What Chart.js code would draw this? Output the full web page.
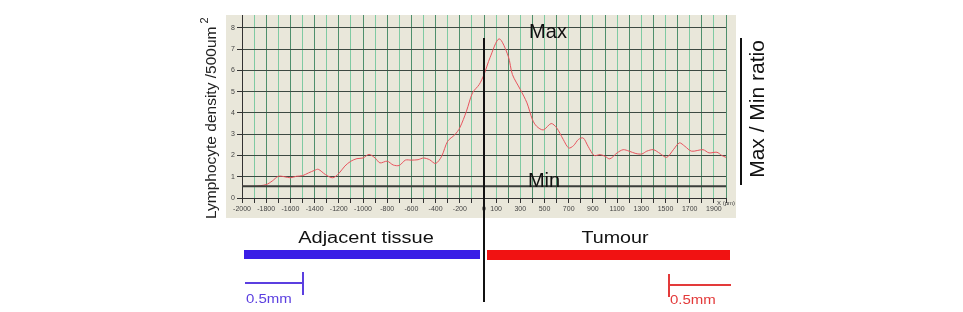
<!DOCTYPE html>
<html lang="en">
<head>
    <meta charset="UTF-8">
    <title>Lymphocyte density profile</title>
    <script src="https://cdn.jsdelivr.net/npm/chart.js"></script>
    <style>
        body { margin: 0; background: #ffffff; }
        #wrap { width: 963px; height: 312px; }
    </style>
</head>
<body>
    <div id="wrap"><canvas id="profile" width="963" height="312"></canvas></div>

    <script>
        // distance from the tumour margin (um) and lymphocyte density
        const distance = [-2000, -1900, -1800, -1750, -1700, -1650, -1600, -1550, -1500, -1450, -1400, -1370,
            -1310, -1250, -1200, -1150, -1100, -1050, -1000, -950, -900, -860, -800, -750, -700, -650,
            -600, -545, -500, -450, -400, -350, -300, -240, -200, -145, -95, -40, 0, 50, 125, 200, 235,
            300, 355, 400, 435, 490, 555, 600, 655, 700, 740, 780, 820, 860, 910, 960, 1000, 1040, 1100,
            1150, 1200, 1255, 1305, 1345, 1400, 1455, 1510, 1565, 1615, 1660, 1715, 1810, 1860, 1925, 1965, 2000];
        const density = [0.55, 0.55, 0.63, 0.8, 1.02, 1.0, 0.95, 1.02, 1.05, 1.18, 1.3, 1.35,
            1.1, 0.95, 1.15, 1.5, 1.73, 1.85, 1.88, 2.05, 1.88, 1.65, 1.73, 1.55, 1.53, 1.78,
            1.78, 1.8, 1.88, 1.8, 1.62, 1.96, 2.67, 2.98, 3.3, 4.08, 4.94, 5.33, 5.8, 6.6, 7.48, 6.67, 5.8,
            5.1, 4.47, 3.69, 3.37, 3.2, 3.5, 3.3, 2.75, 2.35, 2.46, 2.75, 2.82, 2.43, 2.0, 2.04, 1.96, 1.84, 2.12,
            2.27, 2.2, 2.09, 2.07, 2.2, 2.27, 2.09, 1.91, 2.27, 2.59, 2.43, 2.2, 2.27, 2.12, 2.15, 2.0, 1.91];

        const minLevel = 0.55;       // the "Min" reference line
        const yTicks = [0, 1, 2, 3, 4, 5, 6, 7, 8];
        const yTitle = 'Lymphocyte density /500um';
        const sideTitle = 'Max / Min ratio';
        const regions = ['Adjacent tissue', 'Tumour'];
        const scaleLabel = '0.5mm';

        const points = distance.map((d, i) => ({ x: d, y: density[i] }));
        const FONT = '"Liberation Sans", Arial, sans-serif';

        // text stretched sideways like the source figure
        function wideText(ctx, str, x, y, size, sx, align) {
            ctx.save();
            ctx.translate(x, y);
            ctx.scale(sx, 1);
            ctx.font = size + 'px ' + FONT;
            ctx.textAlign = align || 'center';
            ctx.textBaseline = 'middle';
            ctx.fillText(str, 0, 0);
            ctx.restore();
        }

        // beige plot panel behind everything
        const panel = {
            id: 'panel',
            beforeDraw(chart) {
                const { ctx, chartArea: a } = chart;
                ctx.save();
                ctx.fillStyle = '#e9e7da';
                ctx.fillRect(a.left - 16, a.top, a.right - a.left + 26, a.bottom - a.top + 20);
                ctx.restore();
            }
        };

        // labels, reference lines and the tissue bars under the plot
        const extras = {
            id: 'extras',
            afterDraw(chart) {
                const { ctx, chartArea: a, scales: { x, y } } = chart;
                const x0 = x.getPixelForValue(0);
                ctx.save();

                // min line
                const ym = y.getPixelForValue(minLevel);
                ctx.strokeStyle = '#3a3d3a';
                ctx.lineWidth = 2;
                ctx.beginPath();
                ctx.moveTo(a.left, ym);
                ctx.lineTo(a.right, ym);
                ctx.stroke();

                // margin line
                ctx.strokeStyle = '#111';
                ctx.lineWidth = 2;
                ctx.beginPath();
                ctx.moveTo(x0, a.top + 23);
                ctx.lineTo(x0, 302);
                ctx.stroke();

                ctx.fillStyle = '#111';
                wideText(ctx, 'Max', x0 + 64, 32, 20, 1);
                wideText(ctx, 'Min', x0 + 60, 181, 20, 1);

                // y title with superscript
                ctx.save();
                ctx.translate(212, 219);
                ctx.rotate(-Math.PI / 2);
                ctx.textAlign = 'left';
                ctx.textBaseline = 'middle';
                ctx.font = '15.5px ' + FONT;
                ctx.fillStyle = '#222';
                ctx.fillText(yTitle, 0, 0);
                const w = ctx.measureText(yTitle).width;
                ctx.font = '11px ' + FONT;
                ctx.fillText('2', w + 3, -7);
                ctx.restore();

                // right ratio label
                ctx.strokeStyle = '#111';
                ctx.lineWidth = 2;
                ctx.beginPath();
                ctx.moveTo(741, 38);
                ctx.lineTo(741, 185);
                ctx.stroke();
                ctx.save();
                ctx.translate(758, 109);
                ctx.rotate(-Math.PI / 2);
                ctx.fillStyle = '#111';
                ctx.font = '21px ' + FONT;
                ctx.textAlign = 'center';
                ctx.textBaseline = 'middle';
                ctx.fillText(sideTitle, 0, 0);
                ctx.restore();

                // tissue bars
                ctx.fillStyle = '#111';
                wideText(ctx, regions[0], (a.left + x0) / 2 + 3, 239, 16, 1.25);
                wideText(ctx, regions[1], (x0 + a.right) / 2 + 10, 239, 16, 1.23);
                ctx.fillStyle = '#3a1ee6';
                ctx.fillRect(a.left + 2, 250, x0 - 6 - a.left, 9);
                ctx.fillStyle = '#f11212';
                ctx.fillRect(x0 + 3, 250, a.right + 4 - x0 - 3, 10);

                // scale bars
                ctx.lineWidth = 2;
                ctx.strokeStyle = '#5b3fe0';
                ctx.beginPath();
                ctx.moveTo(245, 283);
                ctx.lineTo(303, 283);
                ctx.moveTo(303, 272);
                ctx.lineTo(303, 295);
                ctx.stroke();
                ctx.strokeStyle = '#e33a3a';
                ctx.beginPath();
                ctx.moveTo(669, 274);
                ctx.lineTo(669, 297);
                ctx.moveTo(669, 285);
                ctx.lineTo(731, 285);
                ctx.stroke();
                ctx.fillStyle = '#5b3fe0';
                wideText(ctx, scaleLabel, 246, 300, 12, 1.25, 'left');
                ctx.fillStyle = '#e33a3a';
                wideText(ctx, scaleLabel, 670, 301, 12, 1.25, 'left');

                // tiny x unit
                ctx.fillStyle = '#444';
                wideText(ctx, 'X (µm)', a.right - 9, 203, 6, 1, 'left');
                ctx.restore();
            }
        };

        new Chart(document.getElementById('profile').getContext('2d'), {
            type: 'line',
            data: {
                datasets: [{
                    data: points,
                    borderColor: '#e8545e',
                    borderWidth: 1,
                    pointRadius: 0,
                    tension: 0.3,
                    fill: false
                }]
            },
            options: {
                responsive: false,
                animation: false,
                layout: { padding: { left: 0, right: 237, top: 15, bottom: 94 } },
                plugins: { legend: { display: false }, tooltip: { enabled: false } },
                scales: {
                    x: {
                        type: 'linear',
                        min: -2000,
                        max: 2000,
                        afterFit: s => { s.height = 20; },
                        border: { display: true, color: '#333', width: 1 },
                        grid: {
                            color: c => (Math.abs(c.tick.value) % 200 === 0 ? '#4f8f6c' : '#7fcaa2'),
                            lineWidth: 1,
                            tickLength: 5,
                            tickColor: '#333'
                        },
                        ticks: {
                            stepSize: 100,
                            autoSkip: false,
                            maxRotation: 0,
                            padding: 2,
                            color: '#444',
                            font: { size: 7, family: FONT },
                            callback: v => {
                                if (v === 0) return '0';
                                if (v < 0 && v % 200 === 0) return String(v);
                                if (v > 0 && v % 200 === 100) return String(v);
                                return '';
                            }
                        }
                    },
                    y: {
                        min: 0,
                        max: 8.6,
                        afterFit: s => { s.width = 242; },
                        afterBuildTicks: s => { s.ticks = yTicks.map(v => ({ value: v })); },
                        border: { display: true, color: '#333', width: 1 },
                        grid: { color: '#3d4a42', lineWidth: 1, tickLength: 5, tickColor: '#333' },
                        ticks: {
                            padding: 2,
                            color: '#444',
                            font: { size: 7, family: FONT }
                        }
                    }
                }
            },
            plugins: [panel, extras]
        });
    </script>
</body>
</html>
